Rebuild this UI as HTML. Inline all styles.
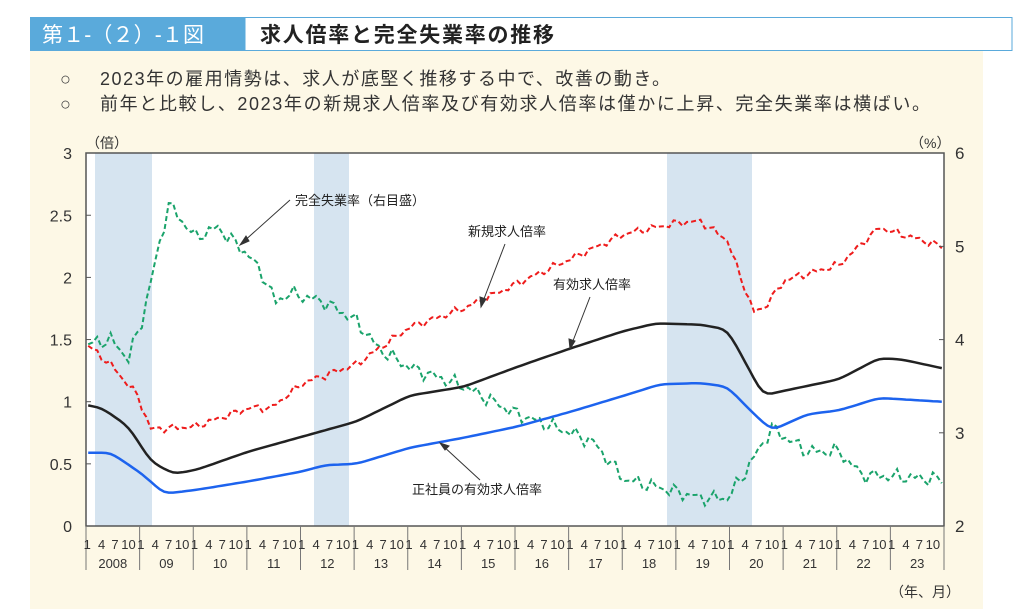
<!DOCTYPE html>
<html><head><meta charset="utf-8">
<style>
body{margin:0;background:#fff;width:1024px;height:609px;overflow:hidden;font-family:"Liberation Sans","Noto Sans CJK JP",sans-serif;}
</style></head><body>
<svg id="s" width="1024" height="609" viewBox="0 0 1024 609" xmlns="http://www.w3.org/2000/svg" font-family="'Liberation Sans','Noto Sans CJK JP',sans-serif">
<rect x="30" y="50" width="953" height="559" fill="#fdf8e6"/>
<rect x="30" y="17" width="215" height="34" fill="#5aaadb"/>
<rect x="245" y="17.5" width="767" height="33" fill="#fff" stroke="#5aaadb" stroke-width="1"/>
<text x="42" y="42" font-size="21" fill="#fff" textLength="162">第１-（２）-１図</text>
<text x="260" y="42" font-size="21" fill="#222" font-weight="bold" textLength="294">求人倍率と完全失業率の推移</text>
<text x="60" y="85" font-size="18" fill="#444">○</text>
<text x="100" y="85" font-size="18" fill="#333" textLength="570">2023年の雇用情勢は、求人が底堅く推移する中で、改善の動き。</text>
<text x="60" y="110" font-size="18" fill="#444">○</text>
<text x="100" y="110" font-size="18" fill="#333" textLength="830">前年と比較し、2023年の新規求人倍率及び有効求人倍率は僅かに上昇、完全失業率は横ばい。</text>
<rect x="86" y="153" width="858" height="373" fill="#fff"/>
<g fill="#d6e4f0">
<rect x="95" y="153" width="57" height="373"/>
<rect x="314" y="153" width="35" height="373"/>
<rect x="667" y="153" width="85" height="373"/>
</g>
<g id="series" fill="none"></g>
<rect x="86" y="153" width="858" height="373" fill="none" stroke="#555" stroke-width="1.5"/>
<g id="axes" font-size="16" fill="#333"></g>
<g font-size="13" fill="#222">
<text x="295" y="205">完全失業率（右目盛）</text>
<text x="468" y="236">新規求人倍率</text>
<text x="553" y="289">有効求人倍率</text>
<text x="412" y="494">正社員の有効求人倍率</text>
</g>
<g stroke="#333" stroke-width="1" fill="#333">
<line x1="290" y1="200" x2="242" y2="243"/><polygon points="240,245 246,236 249,241"/>
<line x1="505" y1="244" x2="482" y2="304"/><polygon points="481,307 480,297 486,299"/>
<line x1="590" y1="297" x2="571" y2="346"/><polygon points="570,349 569,339 575,341"/>
<line x1="480" y1="480" x2="442" y2="445"/><polygon points="440,443 449,446 445,450"/>
</g>
</svg>
<script>
const X0=86,W=858/192;
function interp(kp){let pts=[];for(let i=0;i<192;i++){let t=i;let k=0;while(k<kp.length-2&&((kp[k+1][0]-2008)*12+kp[k+1][1]-1)<t)k++;let a=kp[k],b=kp[k+1];let ta=(a[0]-2008)*12+a[1]-1,tb=(b[0]-2008)*12+b[1]-1;let f=tb==ta?0:Math.max(0,Math.min(1,(t-ta)/(tb-ta)));pts.push(a[2]+(b[2]-a[2])*f);}return pts;}
function smooth(p,n){let o=p.slice();for(let r=0;r<n;r++){let q=o.slice();for(let i=1;i<o.length-1;i++)q[i]=(o[i-1]+o[i]+o[i+1])/3;o=q;}return o;}
function path(vals,fy,jit){let s="";vals.forEach((v,i)=>{let j=jit?jit*Math.sin(i*2.7)*Math.cos(i*1.3):0;s+=(i?"L":"M")+(X0+(i+0.5)*W).toFixed(1)+","+fy(v+j).toFixed(1);});return s;}
const L=v=>526-v*124.3,R=p=>526-(p-2)*93.2;
const black=[[2008,1,0.97],[2008,4,0.95],[2008,10,0.8],[2009,3,0.52],[2009,8,0.42],[2010,1,0.45],[2011,1,0.6],[2012,1,0.72],[2013,1,0.84],[2014,1,1.05],[2015,1,1.12],[2016,1,1.28],[2017,1,1.43],[2018,1,1.57],[2018,8,1.63],[2019,6,1.62],[2019,12,1.58],[2020,4,1.32],[2020,8,1.05],[2021,1,1.09],[2022,1,1.18],[2022,10,1.35],[2023,3,1.34],[2023,12,1.27]];
const blue=[[2008,1,0.59],[2008,6,0.59],[2009,1,0.42],[2009,6,0.26],[2010,1,0.29],[2011,1,0.36],[2012,1,0.44],[2012,6,0.49],[2013,1,0.5],[2014,1,0.63],[2015,1,0.71],[2016,1,0.8],[2017,1,0.92],[2018,1,1.05],[2018,9,1.14],[2019,6,1.15],[2019,12,1.12],[2020,6,0.9],[2020,10,0.77],[2021,6,0.9],[2022,1,0.93],[2022,10,1.03],[2023,12,1.0]];
const red=[[2008,1,1.45],[2008,6,1.3],[2008,12,1.05],[2009,3,0.78],[2010,1,0.8],[2011,1,0.95],[2011,6,0.95],[2012,1,1.15],[2013,1,1.3],[2014,1,1.6],[2015,1,1.75],[2016,1,1.95],[2017,1,2.15],[2018,1,2.35],[2019,1,2.44],[2019,6,2.45],[2019,12,2.3],[2020,3,2.0],[2020,6,1.72],[2020,8,1.75],[2021,1,1.98],[2022,1,2.1],[2022,10,2.4],[2023,12,2.25]];
const green=[[2008,1,3.95],[2008,6,4.0],[2008,10,3.8],[2009,1,4.2],[2009,7,5.45],[2010,1,5.1],[2010,6,5.2],[2011,1,4.9],[2011,4,4.7],[2011,7,4.4],[2011,10,4.5],[2012,6,4.4],[2013,1,4.2],[2013,6,3.9],[2014,1,3.7],[2015,1,3.5],[2016,1,3.2],[2017,1,3.0],[2017,6,2.9],[2018,1,2.5],[2018,10,2.4],[2019,6,2.3],[2019,12,2.3],[2020,3,2.5],[2020,10,3.05],[2021,1,2.95],[2021,6,2.8],[2022,1,2.8],[2022,6,2.55],[2023,12,2.5]];
const g=document.getElementById("series");
g.innerHTML=
`<path d="${path(interp(green),R,0.09)}" stroke="#1aa36b" stroke-width="2" stroke-dasharray="5,3"/>`+
`<path d="${path(interp(red),L,0.035)}" stroke="#ee1c1c" stroke-width="2" stroke-dasharray="5,3"/>`+
`<path d="${path(smooth(interp(black),2),L,0)}" stroke="#222" stroke-width="2.5"/>`+
`<path d="${path(smooth(interp(blue),2),L,0)}" stroke="#1d63ee" stroke-width="2.5"/>`;
let a="";
[0,0.5,1,1.5,2,2.5,3].forEach(v=>{a+=`<text x="72" y="${L(v)+6}" text-anchor="end">${v}</text>`;if(v>0&&v<3)a+=`<line x1="86" x2="91" y1="${L(v)}" y2="${L(v)}" stroke="#555"/>`;});
[2,3,4,5,6].forEach(p=>{a+=`<text x="955" y="${R(p)+6}" font-size="17">${p}</text>`;if(p>2&&p<6)a+=`<line x1="939" x2="944" y1="${R(p)}" y2="${R(p)}" stroke="#555"/>`;});
a+=`<text x="86" y="148" font-size="14">（倍）</text><text x="910" y="148" font-size="14">（%）</text><text x="890" y="597" font-size="14">（年、月）</text>`;
const yl=["2008","09","10","11","12","13","14","15","16","17","18","19","20","21","22","23"];
for(let i=0;i<=16;i++){let x=X0+i*12*W;a+=`<line x1="${x}" x2="${x}" y1="526" y2="570" stroke="#777"/>`;}
for(let i=0;i<16;i++){let x=X0+i*12*W;
[1,4,7,10].forEach(m=>{a+=`<text x="${x+(m-0.5)*W+(m==1?-1:0)}" y="549" font-size="13" text-anchor="middle">${m}</text>`;});
a+=`<text x="${x+6*W}" y="568" font-size="13" text-anchor="middle">${yl[i]}</text>`;}
document.getElementById("axes").innerHTML=a;
</script>
</body></html>
